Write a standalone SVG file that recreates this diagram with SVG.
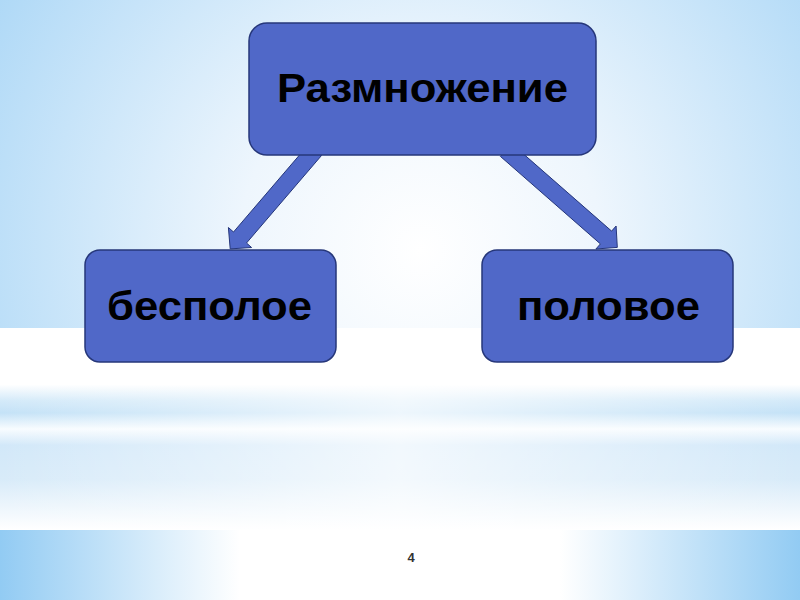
<svg xmlns="http://www.w3.org/2000/svg" width="800" height="600" viewBox="0 0 800 600">
<defs>
<radialGradient id="bgTop" cx="420" cy="250" r="520" gradientUnits="userSpaceOnUse">
<stop offset="0" stop-color="#ffffff"/>
<stop offset="0.35" stop-color="#eef6fd"/>
<stop offset="1" stop-color="#a9d6f6"/>
</radialGradient>
<linearGradient id="bgMid" x1="0" y1="328" x2="0" y2="530" gradientUnits="userSpaceOnUse">
<stop offset="0" stop-color="#ffffff"/>
<stop offset="0.28" stop-color="#ffffff"/>
<stop offset="0.36" stop-color="#d4eaf9"/>
<stop offset="0.42" stop-color="#c4e2f7"/>
<stop offset="0.5" stop-color="#f8fcff"/>
<stop offset="0.58" stop-color="#d2e8f9"/>
<stop offset="0.75" stop-color="#d8ebf9"/>
<stop offset="1" stop-color="#ffffff"/>
</linearGradient>
<linearGradient id="midFade" x1="0" y1="0" x2="800" y2="0" gradientUnits="userSpaceOnUse">
<stop offset="0" stop-color="#ffffff" stop-opacity="0"/>
<stop offset="0.5" stop-color="#ffffff" stop-opacity="0.7"/>
<stop offset="1" stop-color="#ffffff" stop-opacity="0"/>
</linearGradient>
<linearGradient id="bgBot" x1="0" y1="0" x2="800" y2="0" gradientUnits="userSpaceOnUse">
<stop offset="0" stop-color="#92cbf3"/>
<stop offset="0.3" stop-color="#ffffff"/>
<stop offset="0.7" stop-color="#ffffff"/>
<stop offset="1" stop-color="#92cbf3"/>
</linearGradient>
</defs>
<style>
.box{fill:#5068c8;stroke:#26377a;stroke-width:1.5}
.arrow{fill:#5068c8;stroke:#26377a;stroke-width:1}
.lbl{font-family:"Liberation Sans",Arial,sans-serif;font-weight:bold;font-size:40px;fill:#000;text-anchor:middle}
.pg{font-family:"Liberation Sans",Arial,sans-serif;font-weight:bold;font-size:13px;fill:#333;text-anchor:middle}
</style>
<g id="background">
<rect x="0" y="0" width="800" height="328" fill="url(#bgTop)"/>
<rect x="0" y="328" width="800" height="202" fill="url(#bgMid)"/>
<rect x="0" y="328" width="800" height="202" fill="url(#midFade)"/>
<rect x="0" y="530" width="800" height="70" fill="url(#bgBot)"/>
</g>
<g id="connectors">
<polygon class="arrow" points="321.5,155.5 246.5,243 251.6,247.5 230.2,248.9 228.4,227.5 233.5,232 308.5,144.5"/>
<polygon class="arrow" points="500.4,156.4 600.4,243.9 595.9,249 617.3,247.4 616.1,226 611.6,231.1 511.6,143.6"/>
</g>
<g id="node-root">
<rect class="box" x="249" y="23" width="347" height="132" rx="18"/>
<text class="lbl" x="422.5" y="102" textLength="291" lengthAdjust="spacingAndGlyphs">Размножение</text>
</g>
<g id="node-asexual">
<rect class="box" x="85" y="250" width="251" height="112" rx="15"/>
<text class="lbl" x="209.5" y="320" textLength="205" lengthAdjust="spacingAndGlyphs">бесполое</text>
</g>
<g id="node-sexual">
<rect class="box" x="482" y="250" width="251" height="112" rx="15"/>
<text class="lbl" x="608.5" y="320" textLength="183" lengthAdjust="spacingAndGlyphs">половое</text>
</g>
<text class="pg" x="411" y="562">4</text>
</svg>
